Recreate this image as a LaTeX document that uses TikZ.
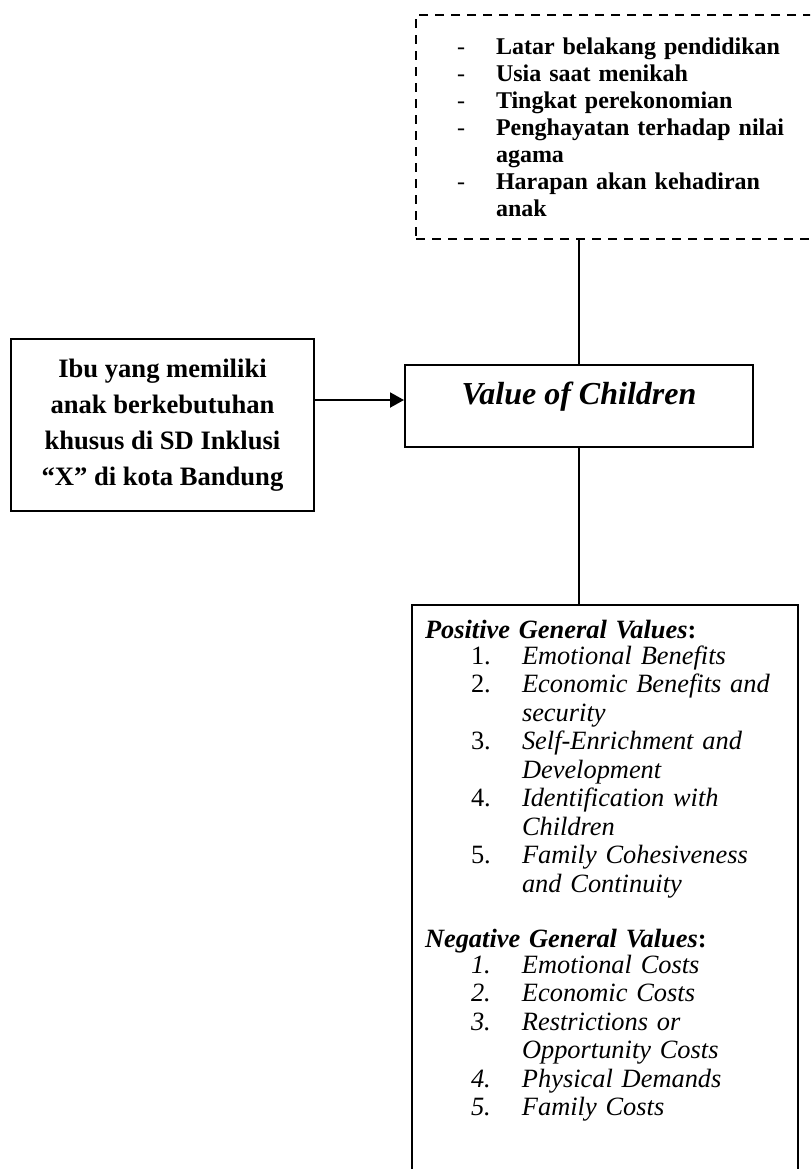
\documentclass[tikz,border=0pt]{standalone}
\usepackage{fontspec}
\setmainfont{Liberation Serif}
\usetikzlibrary{arrows.meta, positioning}

% list helpers
\newcommand{\dashitem}[1]{\makebox[19.5pt][l]{\mdseries -}#1}
\newcommand{\numitem}[2]{\hspace*{23pt}\makebox[25.5pt][l]{#1}\textit{#2}}
\newcommand{\contitem}[1]{\hspace*{48.5pt}\textit{#1}}

\begin{document}
\begin{tikzpicture}[
  x=0.5pt, y=-0.5pt,
  box/.style={rectangle, draw, line width=1pt, inner sep=0pt},
  dashbox/.style={box, dash pattern=on 4.5pt off 3.5pt},
  link/.style={line width=0.65pt},
  arrowlink/.style={line width=1pt, -{Triangle[length=7pt, width=7.5pt]}}
]
  \useasboundingbox (0,0) rectangle (810,1169);
  \clip (0,0) rectangle (810,1169);

  % factors (dashed)
  \node[dashbox, anchor=north west, text width=170pt, inner xsep=20.5pt,
        minimum height=112pt, align=left,
        font=\fontsize{12}{13.5}\selectfont\bfseries] (faktor) at (415,14)
    {\dashitem{Latar belakang pendidikan}\\
     \dashitem{Usia saat menikah}\\
     \dashitem{Tingkat perekonomian}\\
     \dashitem{Penghayatan terhadap nilai}\\
     \hspace*{19.5pt}agama\\
     \dashitem{Harapan akan kehadiran}\\
     \hspace*{19.5pt}anak};

  % subject
  \node[box, anchor=north west, minimum width=151.5pt, minimum height=86pt,
        align=center, font=\fontsize{13.3}{18}\selectfont\bfseries] (ibu) at (10,338)
    {Ibu yang memiliki\\ anak berkebutuhan\\ khusus di SD Inklusi\\ ``X'' di kota Bandung};

  % variable
  \node[box, anchor=north west, minimum width=174pt, minimum height=41pt,
        text height=10pt, text depth=12pt,
        font=\fontsize{16}{18}\selectfont\bfseries\itshape] (voc) at (404,364)
    {Value of Children};

  % general values
  \node[box, anchor=north west, text width=180pt, inner xsep=6.5pt, inner ysep=7.5pt,
        align=left, font=\fontsize{13.2}{14.25}\selectfont] (nilai) at (411,604)
    {\textbf{\textit{Positive General Values}:}\\[-1.25pt]
     \numitem{1.}{Emotional Benefits}\\
     \numitem{2.}{Economic Benefits and}\\
     \contitem{security}\\
     \numitem{3.}{Self-Enrichment and}\\
     \contitem{Development}\\
     \numitem{4.}{Identification with}\\
     \contitem{Children}\\
     \numitem{5.}{Family Cohesiveness}\\
     \contitem{and Continuity}\\[13.25pt]
     \textbf{\textit{Negative General Values}:}\\[-1.25pt]
     \numitem{\textit{1.}}{Emotional Costs}\\
     \numitem{\textit{2.}}{Economic Costs}\\
     \numitem{\textit{3.}}{Restrictions or}\\
     \contitem{Opportunity Costs}\\
     \numitem{\textit{4.}}{Physical Demands}\\
     \numitem{\textit{5.}}{Family Costs}\rule[-40pt]{0pt}{40pt}};

  \draw[link] (voc.north |- faktor.south) -- (voc.north);
  \draw[arrowlink] ([yshift=12.5pt]ibu.east) -- ([yshift=3pt]voc.west);
  \draw[link] (voc.south) -- (voc.south |- nilai.north);
\end{tikzpicture}
\end{document}
